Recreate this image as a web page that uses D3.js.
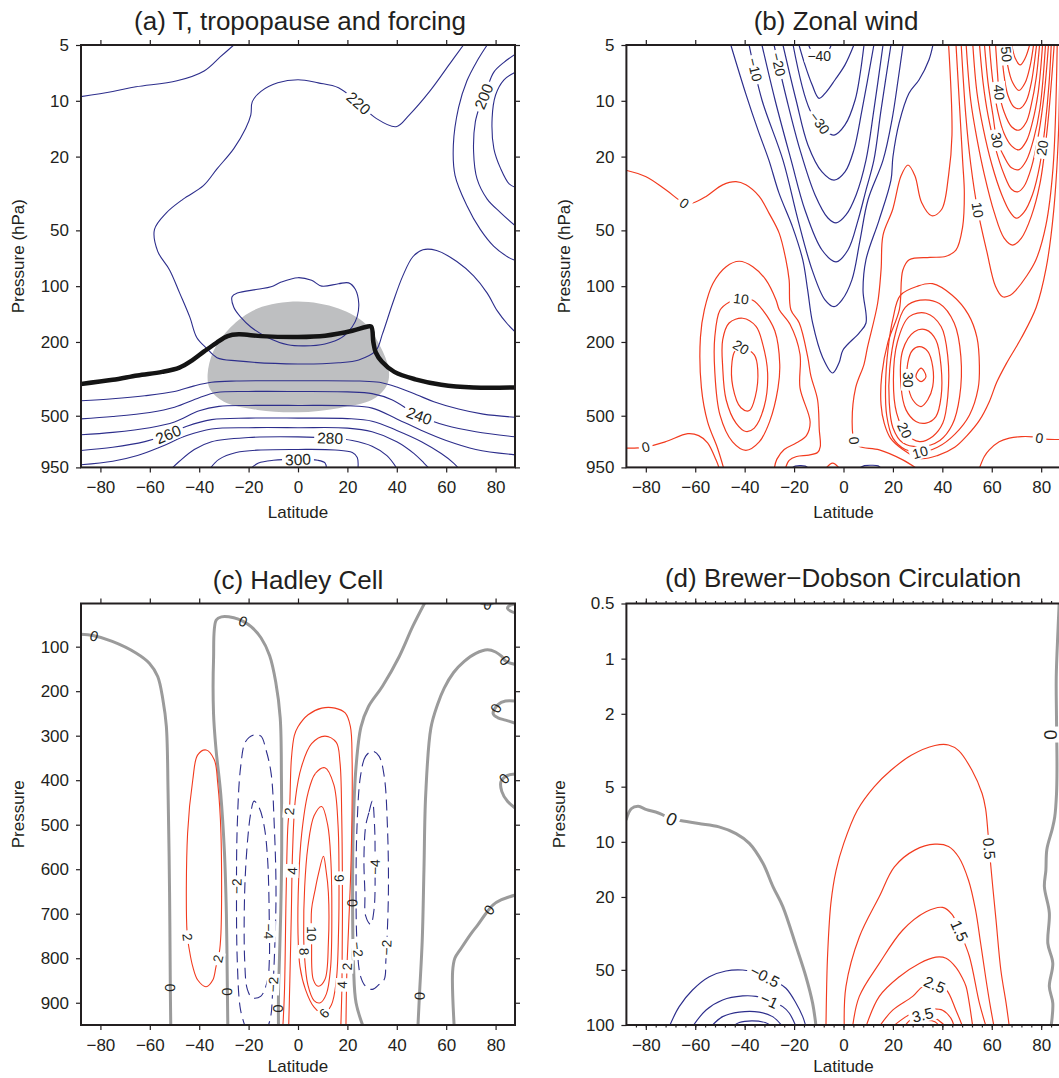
<!DOCTYPE html>
<html>
<head>
<meta charset="utf-8">
<script src="https://cdn.jsdelivr.net/npm/d3@7"></script>
<style>
body { margin: 0; background: #fff; }
svg { font-family: "Liberation Sans", Arial, Helvetica, sans-serif; }
</style>
</head>
<body>
<svg id="chart" width="1059" height="1078"></svg>
<script>
// ---- shared axis values ----
var latTicks = [-80, -60, -40, -20, 0, 20, 40, 60, 80];
var latLimit = 87.86;
var pTicksLog = [5, 10, 20, 50, 100, 200, 500, 950];
var pTicksHadley = [100, 200, 300, 400, 500, 600, 700, 800, 900];
var pTicksBdc = [0.5, 1, 2, 5, 10, 20, 50, 100];

// ---- (a) temperature [lat, hPa] ----
var forcingPatch = [[0,121],[16.4,132],[27.4,160],[32.8,205],[36.5,270],[36.7,320],[35,360],[30,410],[16.4,455],[0,479],
  [-16.4,465],[-30,420],[-35.6,360],[-36.6,300],[-34.2,223],[-27.4,167],[-16.4,132]];
var tropopause = [[-88,337],[-75,320],[-65,303],[-55,290],[-48,275],[-43,252],[-38,225],[-33,202],[-28.5,186],[-24,182],
  [-15,186],[0,188],[11,185],[22,174],[27.5,166],[29.6,165],[30.5,200],[31.5,228],[34,256],[39,290],[47.5,318],[58,340],[71,352],[88,352]];
var tempLines = [
  {v:230, pts:[[-88,9.5],[-75,8.9],[-65.6,8.4],[-49,7.8],[-38,6.9],[-31.5,5.8],[-26,5]]},
  {v:220, pts:[[67,5],[61.5,6.3],[53.3,8.9],[45.1,11.9],[39.7,13.8],[31.5,12.4],[24.6,10.3],[16.4,8.5],[8.2,8.0],[0,7.7],[-8.2,8.0],
    [-15,8.9],[-18.5,10.1],[-19.1,11.9],[-21.2,14.1],[-26,18.1],[-32.8,23.3],[-38.3,28.7],[-46.5,33.9],[-53.3,40.2],[-58.1,49.4],
    [-56.8,64.9],[-52,81.7],[-47.9,109],[-43.8,147],[-41,189],[-36.9,217],[-32.8,243],[-24.6,253],[0,263],[16.4,259],[24.6,250],
    [31.5,223],[34.2,181],[38.3,124],[42.4,88.3],[46.5,69.4],[50.6,63.6],[56.1,64.2],[64.3,73.6],[71.1,88],[76.6,109],[80.7,136],[84.8,160],[88,177]]},
  {v:210, closed:true, pts:[[-26.7,114],[-24.6,109],[-16.4,104],[-10.9,100.8],[-6.8,95],[0,90],[5.5,93],[9.6,100],[16.4,97],[20.5,96],
    [23.2,104],[24.6,124],[23.9,147],[21.9,166],[17.8,189],[10.9,205],[2.7,210],[-4.1,207],[-12.3,189],[-19.1,166],[-23.2,147],[-26,130]]},
  {v:210, pts:[[76.6,5],[72.5,6.1],[68.4,7.8],[65,10.9],[62.9,17.3],[63.6,25.3],[68.4,36.8],[73.8,49.4],[79.3,61],[84.8,69.4],[88,72.8]]},
  {v:200, pts:[[88,5.6],[83.4,6.2],[79.3,7.0],[76.6,8.5],[73.8,10.5],[71.8,13.0],[71.1,18.9],[72.5,26.4],[76.6,33.9],[82.1,40.2],[88,47.3]]},
  {v:190, pts:[[88,7.0],[83.4,7.7],[80,9.3],[78.6,12.4],[79.3,18.1],[82.1,23.3],[85.5,28.1],[88,29.3]]},
  {v:230, pts:[[-88,415],[-75,405],[-62,390],[-50,370],[-42,345],[-35,330],[-25,325],[0,324],[25,325],[33,330],[40,350],[48,385],[55,420],[65,460],[75,490],[88,510]]},
  {v:240, pts:[[-88,520],[-75,505],[-60,480],[-50,450],[-40,400],[-33,375],[-20,370],[0,370],[20,372],[30,380],[38,410],[49,500],[60,565],[72,610],[88,650]]},
  {v:250, pts:[[-88,634],[-75,615],[-60,580],[-50,540],[-40,470],[-32,445],[-20,440],[0,440],[20,442],[30,455],[40,520],[50,600],[60,680],[72,760],[88,813]]},
  {v:260, pts:[[-88,770],[-75,740],[-62,690],[-53,634],[-45,570],[-35,525],[-20,515],[0,515],[20,518],[30,535],[40,600],[50,690],[58,800],[63,900],[65,960]]},
  {v:270, pts:[[-88,920],[-75,880],[-65,820],[-55,730],[-45,640],[-35,590],[-20,580],[0,580],[20,583],[30,610],[40,690],[47,800],[51,900],[53,960]]},
  {v:280, pts:[[-51,960],[-48,880],[-42,760],[-35,690],[-20,655],[0,650],[13,660],[22,680],[30,730],[36,820],[40,960]]},
  {v:290, pts:[[-35.5,960],[-32,860],[-25,790],[-15,765],[0,760],[15,765],[22,790],[24,840],[24.3,960]]},
  {v:300, pts:[[-19,960],[-16,900],[-10,870],[0,860],[8,870],[11,900],[11.5,960]]}
];
var tempLabels = [{v:220, lat:24.6, p:10.3}, {v:200, lat:74.5, p:9.4}, {v:240, lat:49.2, p:495},
  {v:260, lat:-52.4, p:636}, {v:280, lat:13, p:660}, {v:300, lat:0, p:860}];

// ---- (b) zonal wind [lat, hPa] ----
var windLines = [
  {v:-5, pts:[[-45.6,5],[-39.5,9.2],[-34.6,14.4],[-30.2,20.9],[-26.1,31.5],[-20.6,48],[-16.5,72],[-14.5,105],[-12.5,158],[-8.4,243],[-4.4,294],
    [-1.8,259],[-0.2,221],[6.3,179],[9.1,158],[7.9,105],[9.1,72],[14.4,44],[19.2,26.8],[20,20.1],[22.5,13.2],[26.5,9.1],[30.6,7.7],[34.6,6.0],[36.2,5]]},
  {v:-10, pts:[[-38.2,5],[-33,9.9],[-24.5,20.9],[-18.4,44],[-12.7,81.7],[-7.5,118.6],[-3.8,129],[-0.6,118.6],[3.4,92.5],[6.7,56.4],[9.9,34.3],[16,20.9],[19.6,12.7],[22.1,7.7],[24.1,5]]},
  {v:-15, pts:[[-33,5],[-27.7,9.9],[-21.2,20.9],[-15.6,38.8],[-8.7,63.8],[-3,74],[1.8,63.8],[5.9,44],[9.1,30.3],[12.3,20.9],[15.2,11.2],[19.2,5]]},
  {v:-20, pts:[[-28.1,5],[-22.9,9.9],[-17.6,18.4],[-11.5,32.2],[-6.3,42.9],[-3,45.6],[1,41.3],[5.1,32.2],[9.1,20.9],[12.3,11.2],[16,5]]},
  {v:-25, pts:[[-24.5,5],[-19.2,9.9],[-14.4,17.3],[-8.7,24.2],[-3.8,26.8],[0.6,24.2],[4.2,18.4],[7.5,11.2],[12.3,5]]},
  {v:-30, pts:[[-20.4,5],[-13.6,11.2],[-7.5,14.4],[-3.8,15.3],[0.6,13.5],[4.7,9.9],[6.7,7.2],[8.3,5]]},
  {v:-35, pts:[[-18,5],[-15.6,6.4],[-12.7,8.2],[-9.9,9.7],[-7.1,9.0],[-3.4,7.7],[0.6,6.4],[4.2,5]]},
  {v:-40, pts:[[-14.4,4.9],[-11.5,5.7],[-7.5,5.7],[-4.7,4.9]]},
  {v:-5, pts:[[-21,960],[-19.5,935],[-17.5,930],[-15.5,935],[-14.2,960]]},
  {v:-5, pts:[[6.3,960],[8.5,930],[11.5,925],[14,932],[15.2,960]]},
  {v:0, pts:[[-88,23.7],[-79.9,25.7],[-71.8,30.3],[-64.4,35.6],[-61,35.6],[-55.6,32.8],[-48.9,28.4],[-43.5,27.3],[-39.5,28.4],[-34.1,32.8],
    [-30.1,40.5],[-26,51.9],[-23.3,72.2],[-22,92.5],[-21.3,134],[-17.9,158],[-14.5,240],[-13.2,305],[-10.5,410],[-9.8,596],[-9.4,733],
    [-10.5,790],[-14,815],[-19,830],[-22,870],[-23.5,960]]},
  {v:0, pts:[[-88,747],[-80.5,740],[-72.2,692],[-63,625],[-58.6,640],[-55,700],[-51.6,865],[-50.3,960]]},
  {v:0, pts:[[-7.1,960],[-4.4,900],[-1.7,960]]},
  {v:0, pts:[[42.5,4.9],[43.9,15.3],[42.5,25.4],[39.7,38.6],[35.7,41.7],[31.6,35.4],[28.9,25.4],[26.1,22.2],[23.3,25.4],[19.9,38.6],[16,53],
    [15.2,81.7],[13.8,124],[9.7,214],[8.3,264],[4.9,354],[3.5,540],[4.4,689],[6.4,733],[14.5,764],[24,865],[29.5,960]]},
  {v:0, pts:[[55,960],[57,830],[59,764],[63,690],[67.1,660],[72,648],[76.6,650],[82,668],[88,672]]},
  {v:5, pts:[[-48.5,960],[-51,747],[-55,540],[-57.5,354],[-57.9,189],[-56.3,134],[-52.9,97],[-47.5,78.5],[-42.2,73.4],[-36.7,78.5],[-31.4,92.5],
    [-27.3,118.6],[-26,134],[-21.6,161],[-17.6,233],[-17.6,354],[-13.5,540],[-15,640],[-19,700],[-24,760],[-27,860],[-28,960]]},
  {v:10, closed:true, pts:[[-50,135],[-52.1,189],[-52.1,287],[-50,495],[-44.9,692],[-39.5,768],[-34.1,692],[-29.9,538],[-26.5,354],[-25.8,264],
    [-27.8,174],[-32.6,135],[-36.7,119],[-41.5,117],[-46.3,122]]},
  {v:15, closed:true, pts:[[-48.9,272],[-47.5,410],[-43.5,548],[-39.5,608],[-36.1,583],[-32.1,446],[-30.7,295],[-32.8,203],[-35.4,165],[-40.8,149],[-46.3,158],[-48.9,195]]},
  {v:20, closed:true, pts:[[-45.1,255],[-44.8,348],[-41.5,453],[-38.1,469],[-35.7,394],[-34.7,283],[-36.1,235],[-41.5,213],[-44,225]]},
  {v:5, pts:[[45.5,4.9],[48.2,20.9],[48.9,31.6],[48.2,48],[45.5,64],[41.5,69],[35,70],[26.6,72],[24,82],[22.6,134],[18,200],[15.5,300],[15.2,437],
    [16.5,550],[19,660],[24,760],[31,850],[38,820],[45,740],[50,640],[55,530],[59,420],[62,330],[66,260],[72,190],[78,130],[82,80],[85,40],[87,15],[87.6,4.9]]},
  {v:10, closed:true, pts:[[23,112],[30,100],[36,97],[44,112],[50.5,142],[54,189],[55,270],[54.5,355],[51,495],[45,630],[38,740],[31,787],[25,760],
    [20,660],[17.5,500],[17,350],[18,220],[20,150]]},
  {v:15, closed:true, pts:[[25,130],[31,119],[38.8,124],[44.8,158],[47.5,240],[47,394],[44,560],[39,680],[31,735],[24,700],[20,580],[18.5,420],[18.7,280],[21,180]]},
  {v:20, closed:true, pts:[[26.6,146],[33.4,140],[39.5,165],[42.2,240],[42.2,394],[40.2,548],[36.1,647],[30.7,689],[25.3,620],[21.5,484],[20.2,320],[21.8,200]]},
  {v:25, closed:true, pts:[[28.7,176],[33.4,172],[37.4,195],[39.5,272],[39.5,394],[37.4,505],[33.4,548],[29.3,537],[25.3,465],[23.3,348],[24,221]]},
  {v:30, closed:true, pts:[[28,221],[30.7,212],[34.1,225],[36.1,272],[36.1,348],[34.1,410],[31.4,446],[28,410],[26,334],[26,260]]},
  {v:35, closed:true, pts:[[29.3,307],[31.4,277],[33.4,307],[31.4,327]]},
  {v:10, pts:[[47.6,4.9],[49.5,12],[51.5,22],[54.3,38.8],[58,65],[61.5,100],[64.4,114],[67.5,112],[69.8,105],[73.9,89],[77.9,72],[81.9,47],[84.8,23],[86.5,4.9]]},
  {v:15, pts:[[49.6,4.9],[51.5,10],[54,16],[57,25],[61,40],[65,55],[68.5,60],[72,55],[76,42],[79.5,28],[82.5,14],[85.3,4.9]]},
  {v:20, pts:[[52.3,4.9],[54,9],[56.5,14],[60,22],[64,32],[67.5,40],[70,43],[73,40],[76.5,32],[79.5,22],[81.5,14],[83.2,8],[84.1,4.9]]},
  {v:25, pts:[[55,4.9],[56.5,8],[58.5,12],[61.5,18],[65,25],[68,30],[70.5,31],[73,29],[76,23],[79,15],[81.3,9],[83,4.9]]},
  {v:30, pts:[[57,4.9],[58.5,8],[60.5,12],[62.1,16.3],[65,20],[68,23],[71,23.5],[74,21],[77,16],[79.5,11],[81.8,4.9]]},
  {v:35, pts:[[59,4.9],[60.5,8],[62.5,11.5],[65,15],[68,17.5],[71,18.4],[74,16.5],[76.5,13],[78.8,9],[80.6,4.9]]},
  {v:40, pts:[[61.5,4.9],[62.3,7],[63,9],[65,11.5],[68,13.8],[71,14.4],[74,13],[76,10.5],[78,7.5],[79.4,4.9]]},
  {v:45, pts:[[63.8,4.9],[64.8,7],[66.5,9.3],[69,10.8],[71.5,11],[74,10],[76,8],[78.2,4.9]]},
  {v:50, pts:[[65.5,4.9],[66.5,6.5],[68.5,8],[71,8.8],[73.5,8],[75.5,6.5],[77,4.9]]},
  {v:55, pts:[[68,4.9],[69.5,5.9],[71.5,6.4],[73.5,5.9],[75.5,4.9]]}
];
var windLabels = [{v:-10, lat:-36.1, p:6.8}, {v:-20, lat:-27, p:6.4}, {v:-40, lat:-9.8, p:5.6}, {v:-30, lat:-11, p:13.6},
  {v:0, lat:-64.4, p:35.6}, {v:10, lat:-41.5, p:117}, {v:20, lat:-41.5, p:213}, {v:0, lat:-80, p:740},
  {v:0, lat:4.2, p:680}, {v:30, lat:26, p:320}, {v:20, lat:25.8, p:590}, {v:10, lat:31, p:787}, {v:0, lat:79.4, p:650},
  {v:10, lat:54.3, p:38.8}, {v:30, lat:62.1, p:16.3}, {v:40, lat:63, p:9}, {v:50, lat:66.3, p:5.6}, {v:20, lat:80.8, p:18}];

// ---- (c) Hadley cell streamfunction [lat, hPa] ----
var hadleyLines = [
  {v:0, pts:[[-88,72],[-83,75],[-75.2,88],[-65.6,114],[-60.2,137],[-56.8,167],[-54.7,219],[-53.3,279],[-52.6,429],[-52,653],[-51.7,863],[-51.5,960]]},
  {v:0, pts:[[-28.4,960],[-28.6,870],[-29,700],[-29.8,560],[-31.3,430],[-33.2,330],[-34.2,250],[-34.2,130],[-33.1,40],[-31,33],[-26,35],[-22.2,43],
    [-19,55],[-15,80],[-11.5,120],[-9,180],[-7.2,260],[-6.7,400],[-6.6,560],[-7,700],[-7.5,800],[-7.9,880],[-7.9,960]]},
  {v:0, pts:[[26.8,960],[23.5,900],[22.5,820],[22.1,669],[22.4,500],[23.5,370],[25.5,280],[28.5,235],[34.2,189],[41,122],[46.5,54],[51.3,2]]},
  {v:0, pts:[[48.5,960],[49.2,880],[50.3,760],[51,600],[51.7,433],[53.8,283],[56.5,230],[59.2,193],[63,158],[67.3,133],[72,115],[76.7,107],[80,112],
    [82.5,122],[84.2,133],[88,140]]},
  {v:0, pts:[[63.3,960],[62.6,830],[63.5,800],[66,778],[70,745],[72.8,725],[76,700],[79,680],[82.2,669],[88,658]]},
  {v:0, pts:[[88,222],[84,222],[81,230],[79,250],[81,260],[84,265],[88,272]]},
  {v:0, pts:[[88,386],[84.5,390],[82.2,403],[82.5,425],[84.9,448],[88,463]]},
  {v:0, pts:[[88,4],[85.5,8],[84.8,14],[86,20],[88,24]]},
  {v:0, pts:[[74,2],[76.8,5],[79,2]]},
  {v:2, closed:true, pts:[[-37.2,332],[-40.6,343],[-42.6,399],[-44.7,519],[-44.9,744],[-44,781],[-42.6,819],[-40.6,849],[-37.2,864],[-34.5,849],
    [-33.2,819],[-31.9,789],[-31.2,744],[-31.2,519],[-32.5,407],[-33.9,354]]},
  {v:-2, pts:[[-21,960],[-23.3,915],[-24.6,803],[-24.9,653],[-24.6,503],[-23.2,369],[-21.2,313],[-17.8,298],[-15,301],[-13,331],[-10.9,384],
    [-9.6,503],[-8.9,653],[-9.6,803],[-10.3,878],[-11,930],[-12.5,960]]},
  {v:-4, closed:true, pts:[[-17.8,447],[-15.7,462],[-13.7,503],[-12.3,578],[-11.6,728],[-11.6,803],[-12.3,848],[-15,885],[-18.5,889],[-20.5,870],
    [-21.6,803],[-21.6,653],[-20.5,541],[-19.1,473]]},
  {v:2, pts:[[-6.2,960],[-5.5,878],[-4.8,653],[-4.1,503],[-3.4,460],[-2.7,354],[-1.5,300],[0,280],[4.1,253],[9.6,238],[15,238],[19.1,249],
    [21.2,279],[21.9,354],[21.5,578],[20.5,728],[19.8,826],[19.4,960]]},
  {v:4, pts:[[-3.8,960],[-3.3,850],[-2.7,700],[-2.2,560],[-1,440],[1.4,370],[5.5,318],[10.9,301],[15.5,315],[17,360],[17.7,480],[18,700],[17.8,859],[17.3,960]]},
  {v:6, closed:true, pts:[[10.9,372],[7,385],[4,430],[1.5,520],[0.3,620],[0,744],[0.8,819],[3,870],[6.5,910],[10.3,925],[13.5,905],[15.5,850],
    [16.4,744],[16.6,619],[16.2,500],[14.5,410]]},
  {v:8, closed:true, pts:[[9.6,459],[6.5,480],[4,550],[2.7,640],[2.3,744],[2.6,793],[4,860],[6.5,895],[9,900],[11.5,880],[13.2,820],[13.7,700],[13.3,580],[12,500]]},
  {v:10, closed:true, pts:[[10.3,571],[8.3,610],[6.8,650],[5.5,690],[5.5,765],[6.2,848],[8.2,863],[10.9,848],[12.3,765],[12.3,653],[11.3,600]]},
  {v:-2, closed:true, pts:[[30.1,335],[27.4,346],[25.3,391],[23.9,503],[23.5,653],[23.9,765],[25.3,840],[27.4,863],[30.1,870],[32.8,859],[34.9,848],
    [35.6,803],[36.6,653],[36.2,503],[34.9,391],[32.8,346]]},
  {v:-4, closed:true, pts:[[30.1,447],[28.7,473],[27.4,503],[26.7,578],[27.1,653],[27.4,705],[29.4,724],[30.8,690],[31.2,578],[31,503]]}
];
var hadleyLabels = [{v:0, lat:-82.5, p:75}, {v:0, lat:-22.2, p:43}, {v:0, lat:-51.7, p:866}, {v:0, lat:-28.5, p:875}, {v:0, lat:-7.7, p:913},
  {v:0, lat:22.1, p:676}, {v:0, lat:49.5, p:885}, {v:0, lat:83.4, p:133}, {v:0, lat:80, p:238}, {v:0, lat:83.3, p:395}, {v:0, lat:76.6, p:688},
  {v:0, lat:76.8, p:5}, {v:2, lat:-44, p:752}, {v:2, lat:-33.2, p:800}, {v:-2, lat:-25, p:638}, {v:-4, lat:-11.6, p:740}, {v:-2, lat:-9.8, p:859},
  {v:2, lat:-3.6, p:470}, {v:4, lat:-2.3, p:604}, {v:8, lat:2.5, p:785}, {v:10, lat:5.5, p:745}, {v:6, lat:16.5, p:620}, {v:2, lat:20.1, p:819},
  {v:4, lat:17.8, p:860}, {v:6, lat:10.6, p:924}, {v:-2, lat:24, p:780}, {v:-4, lat:31.1, p:595}, {v:-2, lat:36.3, p:776}];

// ---- (d) Brewer-Dobson circulation [lat, hPa] ----
var bdcLines = [
  {v:0, pts:[[-88,7.6],[-85.9,6.6],[-83.1,6.4],[-79.7,6.67],[-74.9,6.96],[-69.5,7.5],[-66.8,7.63],[-58.6,7.95],[-50.4,8.29],[-43.5,9.02],[-38.1,10.2],
    [-32.6,13.1],[-28.5,17.6],[-24.6,22.5],[-19.2,37],[-15.2,54.5],[-12.5,76],[-11.1,102]]},
  {v:0, pts:[[87.3,0.49],[86.8,0.7],[86.1,1.26],[86.2,2.1],[86.4,4],[86.2,5.5],[85.5,7.3],[84.5,8.5],[82.3,11],[81.9,14.3],[81.3,17.6],[83.3,24.4],
    [82.7,35.9],[84.7,46],[83.3,61.6],[84.7,76],[84,102]]},
  {v:-0.5, pts:[[-70.5,102],[-66.5,79.4],[-61.1,64.4],[-54.3,54.5],[-47.6,50.7],[-40.8,50.1],[-36,51.5],[-32,54],[-27.5,58],[-23.3,63],[-19.2,76],[-16.5,90],[-15.2,102]]},
  {v:-1, pts:[[-61.1,102],[-55.6,82.8],[-48.9,73],[-40.8,69.4],[-35.4,69.8],[-30.1,73.5],[-24.6,79.4],[-21.9,86.3],[-19.2,102]]},
  {v:-1.5, pts:[[-53.6,102],[-48.9,90],[-42.2,85],[-34.1,85],[-28.7,90],[-24.6,102]]},
  {v:-2, pts:[[-45,102],[-42.2,97],[-37.1,95],[-31.7,97],[-28.7,102]]},
  {v:0.5, pts:[[-7.1,102],[-6.8,60],[-6.4,40.5],[-5.1,21.6],[-3,14.3],[0.1,10.2],[5.6,6.72],[12.4,5.01],[19.2,4.07],[27.4,3.37],[37,2.98],[42.5,2.96],
    [46.6,3.18],[52,4.07],[56.1,5.45],[57.5,6.59],[58.5,9],[59.5,13],[60.4,17.6],[61.7,26.5],[63.7,50.4],[65.8,76],[67.1,102]]},
  {v:1, pts:[[0.3,102],[1.0,61.6],[6.4,33.1],[14.5,19.9],[20.6,13.7],[28.8,11.1],[37,10.3],[42.5,10.6],[46.6,12.1],[50.6,16.2],[53.4,23.4],[55.5,35.8],
    [57.5,54.5],[59.2,76],[60.9,102]]},
  {v:1.5, pts:[[3.7,102],[6.4,69.8],[14.5,46.1],[24,30.3],[33.4,24.1],[40.1,22.8],[44,25],[46.9,30.6],[50.9,42],[55,76],[57.7,102]]},
  {v:2, pts:[[9.1,102],[14.5,69.8],[22.6,54.5],[30.7,46.1],[37.4,42.6],[41.5,43.2],[45.5,48.4],[48,55],[49.6,61.6],[50.9,76],[52.3,102]]},
  {v:2.5, pts:[[14.5,102],[19.9,83],[28,69.8],[32.1,61.6],[36.7,60],[41.5,64],[45.5,83],[48.2,102]]},
  {v:3, pts:[[19.9,102],[25.3,90],[30.7,83],[36.1,81.6],[40.1,83],[43.5,92],[44.8,102]]},
  {v:3.5, pts:[[24.6,102],[26.6,95],[29,90],[32,88],[36.1,90],[38.8,95],[41.5,102]]},
  {v:4, pts:[[27.5,102],[30.5,96],[34,94.5],[37,96],[39,102]]}
];
var bdcLabels = [{v:0, lat:-69.5, p:7.5}, {v:0, lat:86.3, p:2.6}, {v:0.5, lat:58.6, p:10.9}, {v:1.5, lat:46.9, p:30.6},
  {v:2.5, lat:36.7, p:61}, {v:3.5, lat:32, p:88}, {v:-0.5, lat:-32.1, p:55}, {v:-1, lat:-30.1, p:74}];

// ---- drawing ----
var svg = d3.select('#chart');
var svgWidth = +svg.attr('width');
var fmt = d3.format('~g');
var ink = '#231f20';
var blue = '#2d2e8c', red = '#f23b1f', grey = '#9b9b9b';

function makePanel(o) {
  var x = d3.scaleLinear().domain([-latLimit, latLimit]).range([o.x0, o.x1]);
  var y = (o.log ? d3.scaleLog() : d3.scaleLinear()).domain(o.pDomain).range([o.y0, o.y1]);
  var g = svg.append('g');
  g.append('clipPath').attr('id', 'clip-' + o.id).append('rect')
    .attr('x', o.x0).attr('y', o.y0).attr('width', o.x1 - o.x0).attr('height', o.y1 - o.y0);
  var plot = g.append('g').attr('clip-path', 'url(#clip-' + o.id + ')');
  return {o: o, x: x, y: y, g: g, plot: plot};
}

function drawAxes(P) {
  var o = P.o, g = P.g;
  var ax = g.append('g');
  ax.append('g').attr('transform', 'translate(0,' + o.y1 + ')')
    .call(d3.axisBottom(P.x).tickValues(latTicks).tickSize(5).tickPadding(9).tickFormat(fmt));
  ax.append('g').attr('transform', 'translate(0,' + o.y0 + ')')
    .call(d3.axisTop(P.x).tickValues(latTicks).tickSize(5).tickFormat(''));
  ax.append('g').attr('transform', 'translate(' + o.x0 + ',0)')
    .call(d3.axisLeft(P.y).tickValues(o.pTicks).tickSize(5).tickPadding(7).tickFormat(fmt));
  ax.append('g').attr('transform', 'translate(' + o.x1 + ',0)')
    .call(d3.axisRight(P.y).tickValues(o.pTicks).tickSize(5).tickFormat(''));
  if (o.minor) {
    var minor = d3.range(-84, 85, 4);
    ax.append('g').attr('transform', 'translate(0,' + o.y0 + ')')
      .call(d3.axisTop(P.x).tickValues(minor).tickSize(2.5).tickFormat(''));
    ax.append('g').attr('transform', 'translate(0,' + o.y1 + ')')
      .call(d3.axisBottom(P.x).tickValues(minor).tickSize(2.5).tickFormat(''));
  }
  ax.selectAll('.domain').remove();
  ax.selectAll('g').attr('font-family', null).attr('font-size', null);
  ax.selectAll('.tick line').attr('stroke', ink).attr('stroke-width', 1.2);
  ax.selectAll('.tick text').attr('font-size', 17).attr('fill', ink);

  g.append('rect').attr('x', o.x0).attr('y', o.y0).attr('width', o.x1 - o.x0).attr('height', o.y1 - o.y0)
    .attr('fill', 'none').attr('stroke', ink).attr('stroke-width', 2);
  g.append('text').attr('x', o.titleX).attr('y', o.titleY).attr('text-anchor', 'middle')
    .attr('font-size', 26).attr('fill', ink).text(o.title);
  g.append('text').attr('x', (o.x0 + o.x1) / 2).attr('y', o.y1 + o.latGap).attr('text-anchor', 'middle')
    .attr('font-size', 17).attr('fill', ink).text('Latitude');
  g.append('text').attr('transform', 'translate(' + o.yTitleX + ',' + ((o.y0 + o.y1) / 2) + ') rotate(-90)')
    .attr('text-anchor', 'middle').attr('font-size', 17).attr('fill', ink).text(o.yTitle);
}

function drawContours(P, lines, style) {
  var gen = d3.line().x(function(d) { return P.x(d[0]); }).y(function(d) { return P.y(d[1]); });
  P.plot.append('g').selectAll('path').data(lines).enter().append('path')
    .attr('d', function(d) { return gen.curve(d.closed ? d3.curveCatmullRomClosed : d3.curveCatmullRom)(d.pts); })
    .attr('fill', 'none').attr('stroke-linejoin', 'round')
    .each(function(d) { style(d3.select(this), d.v); });
}

function drawLabels(P, lines, labels, sizeOf, boxed) {
  var layer = P.plot.append('g');
  labels.forEach(function(lb) {
    var px = P.x(lb.lat), py = P.y(lb.p), best = null;
    lines.filter(function(l) { return l.v === lb.v; }).forEach(function(l) {
      var pts = l.pts.map(function(q) { return [P.x(q[0]), P.y(q[1])]; });
      if (l.closed) pts.push(pts[0]);
      for (var i = 0; i < pts.length - 1; i++) {
        var a = pts[i], b = pts[i + 1], dx = b[0] - a[0], dy = b[1] - a[1];
        var t = Math.max(0, Math.min(1, ((px - a[0]) * dx + (py - a[1]) * dy) / (dx * dx + dy * dy || 1)));
        var cx = a[0] + t * dx, cy = a[1] + t * dy, dist = (cx - px) * (cx - px) + (cy - py) * (cy - py);
        if (!best || dist < best.dist) best = {dist: dist, x: cx, y: cy, ang: Math.atan2(dy, dx) * 180 / Math.PI};
      }
    });
    if (!best) best = {x: px, y: py, ang: 0};
    var ang = best.ang;
    if (ang > 90) ang -= 180;
    if (ang <= -90) ang += 180;
    var size = sizeOf(lb.v);
    // keep a label that sits on the picture's right edge fully inside it
    var lx = Math.min(best.x, svgWidth - size * 0.45);
    var lg = layer.append('g').attr('transform', 'translate(' + lx + ',' + best.y + ') rotate(' + ang + ')');
    var t = lg.append('text').text(fmt(lb.v)).attr('text-anchor', 'middle').attr('dy', '0.36em')
      .attr('font-size', size).attr('fill', ink);
    if (boxed(lb.v)) {
      var w = t.node().getComputedTextLength();
      lg.insert('rect', 'text').attr('x', -w / 2 - 3).attr('y', -size * 0.48).attr('width', w + 6)
        .attr('height', size * 0.96).attr('fill', '#fff');
    }
  });
}

// (a)
var A = makePanel({id: 'a', x0: 81, x1: 515, y0: 45, y1: 467.4, log: true, pDomain: [5, 950], pTicks: pTicksLog, latGap: 51,
  title: '(a) T, tropopause and forcing', titleX: 300, titleY: 30, yTitle: 'Pressure (hPa)', yTitleX: 24});
var patchLine = d3.line().x(function(d) { return A.x(d[0]); }).y(function(d) { return A.y(d[1]); });
A.plot.append('path').attr('d', patchLine.curve(d3.curveCatmullRomClosed)(forcingPatch)).attr('fill', '#bebfc1');
drawContours(A, tempLines, function(s) { s.attr('stroke', blue).attr('stroke-width', 1.1); });
A.plot.append('path').attr('d', patchLine.curve(d3.curveCatmullRom)(tropopause))
  .attr('fill', 'none').attr('stroke', '#141414').attr('stroke-width', 4.5).attr('stroke-linejoin', 'round');
drawLabels(A, tempLines, tempLabels, function() { return 15.5; }, function() { return true; });
drawAxes(A);

// (b)
var B = makePanel({id: 'b', x0: 626.4, x1: 1060.6, y0: 45, y1: 467.4, log: true, pDomain: [5, 950], pTicks: pTicksLog, latGap: 51,
  title: '(b) Zonal wind', titleX: 836, titleY: 30, yTitle: 'Pressure (hPa)', yTitleX: 570});
drawContours(B, windLines, function(s, v) { s.attr('stroke', v < 0 ? blue : red).attr('stroke-width', 1.2); });
drawLabels(B, windLines, windLabels, function() { return 14; }, function() { return true; });
drawAxes(B);

// (c)
var C = makePanel({id: 'c', x0: 81, x1: 515, y0: 603.5, y1: 1025, log: false, pDomain: [3, 950], pTicks: pTicksHadley, latGap: 47,
  title: '(c) Hadley Cell', titleX: 298, titleY: 589, yTitle: 'Pressure', yTitleX: 24});
drawContours(C, hadleyLines, function(s, v) {
  if (v === 0) s.attr('stroke', grey).attr('stroke-width', 3);
  else if (v > 0) s.attr('stroke', red).attr('stroke-width', 1.1);
  else s.attr('stroke', blue).attr('stroke-width', 1.1).attr('stroke-dasharray', '11,6');
});
drawLabels(C, hadleyLines, hadleyLabels, function(v) { return v === 0 ? 14.5 : 13.5; }, function(v) { return v !== 0; });
drawAxes(C);

// (d)
var D = makePanel({id: 'd', x0: 626.4, x1: 1060.6, y0: 603.5, y1: 1025, log: true, pDomain: [0.5, 100], pTicks: pTicksBdc, minor: true, latGap: 47,
  title: '(d) Brewer\u2212Dobson Circulation', titleX: 843, titleY: 587, yTitle: 'Pressure', yTitleX: 565});
drawContours(D, bdcLines, function(s, v) {
  if (v === 0) s.attr('stroke', grey).attr('stroke-width', 3);
  else s.attr('stroke', v > 0 ? red : blue).attr('stroke-width', 1.15);
});
drawLabels(D, bdcLines, bdcLabels, function(v) { return v === 0 ? 18 : 15.5; }, function() { return true; });
drawAxes(D);
</script>
</body>
</html>
